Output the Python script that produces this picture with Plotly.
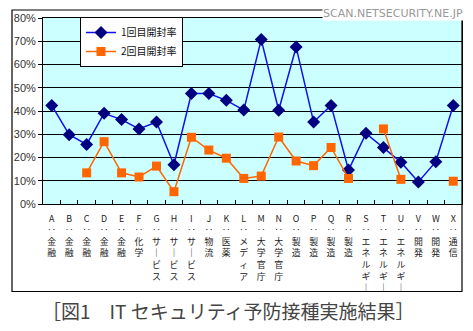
import plotly.graph_objects as go

letters = list("ABCDEFGHIJKLMNOPQRSTUVWX")
industries = ["金融", "金融", "金融", "金融", "金融", "化学", "サービス", "サービス", "サービス",
              "物流", "医薬", "メディア", "大学官庁", "大学官庁", "製造", "製造", "製造", "製造",
              "エネルギー", "エネルギー", "エネルギー", "開発", "開発", "通信"]
first_rate = [42.4, 29.8, 25.6, 39.0, 36.3, 32.3, 35.3, 16.9, 47.5, 47.5, 44.6, 40.4,
              70.7, 40.3, 67.5, 35.3, 42.4, 14.6, 30.4, 24.3, 18.0, 9.5, 18.2, 42.4]
second_rate = [None, None, 13.4, 26.8, 13.4, 11.6, 16.3, 5.3, 28.7, 23.2, 19.7, 11.0,
               12.0, 28.8, 18.5, 16.5, 24.3, 11.0, None, 32.3, 10.6, None, None, 9.8]
y_ticks = [0, 10, 20, 30, 40, 50, 60, 70, 80]
y_tick_text = ["0%", "10%", "20%", "30%", "40%", "50%", "60%", "70%", "80%"]


def vert(letter, word):
    chars = ["｜" if c == "ー" else c for c in word]
    return "<br>".join([letter, "‥"] + chars)


tick_text = [vert(l, w) for l, w in zip(letters, industries)]

W, H = 473, 331
L, R, T, B = 43, 11, 18, 127
pw, ph = W - L - R, H - T - B


def px(x):
    return (x - L) / pw


def py(y):
    return (H - B - y) / ph


fig = go.Figure()
fig.add_trace(go.Scatter(
    x=letters, y=first_rate, name="1回目開封率", mode="lines+markers",
    line=dict(color="#1010F0", width=1.5),
    marker=dict(symbol="diamond", size=10, color="#000080"),
))
fig.add_trace(go.Scatter(
    x=letters, y=second_rate, name="2回目開封率", mode="lines+markers",
    connectgaps=False,
    line=dict(color="#FF6600", width=1.5),
    marker=dict(symbol="square", size=9, color="#FF6600"),
))

fig.update_layout(
    width=W, height=H,
    margin=dict(l=L, r=R, t=T, b=B, pad=0, autoexpand=False),
    paper_bgcolor="white",
    plot_bgcolor="#CCFFFF",
    font=dict(family="Noto Sans CJK JP", color="#222"),
    legend=dict(
        x=px(80), y=py(17), xanchor="left", yanchor="top",
        bgcolor="white", bordercolor="black", borderwidth=1,
        font=dict(size=10, color="#111"),
        tracegroupgap=0, itemwidth=30,
    ),
    xaxis=dict(
        type="category", tickvals=letters, ticktext=tick_text, tickangle=0,
        automargin=False, ticklabelstandoff=6,
        tickfont=dict(size=8.9, color="#222", family="Noto Sans CJK JP"),
        ticks="inside", tickson="boundaries", ticklen=4, tickcolor="black",
        showline=True, linecolor="black", linewidth=1, mirror=True,
        showgrid=False, range=[-0.5, 23.5],
    ),
    yaxis=dict(
        range=[0, 80], tickvals=y_ticks, ticktext=y_tick_text, automargin=False,
        tickfont=dict(size=11, color="#333", family="Liberation Sans"),
        ticks="outside", ticklen=4, tickcolor="black",
        showline=True, linecolor="black", linewidth=1, mirror=True,
        showgrid=True, gridcolor="black", gridwidth=1, zeroline=False,
    ),
    shapes=[dict(
        type="rect", xref="paper", yref="paper",
        x0=px(12), x1=px(462), y0=py(291.5), y1=py(10),
        line=dict(color="black", width=1.2), fillcolor="rgba(0,0,0,0)",
        layer="above",
    )],
    annotations=[
        dict(text="SCAN.NETSECURITY.NE.JP", xref="paper", yref="paper",
             x=px(464), y=py(13), xanchor="right", yanchor="middle",
             showarrow=False, bgcolor="white", borderpad=0,
             font=dict(size=11, color="#999", family="DejaVu Sans")),
        dict(text="［図1　IT セキュリティ予防接種実施結果］", xref="paper", yref="paper",
             x=px(228), y=py(310), xanchor="center", yanchor="middle",
             showarrow=False,
             font=dict(size=19, color="#444", family="Noto Sans CJK JP")),
    ],
)

fig.write_html("out.html")
